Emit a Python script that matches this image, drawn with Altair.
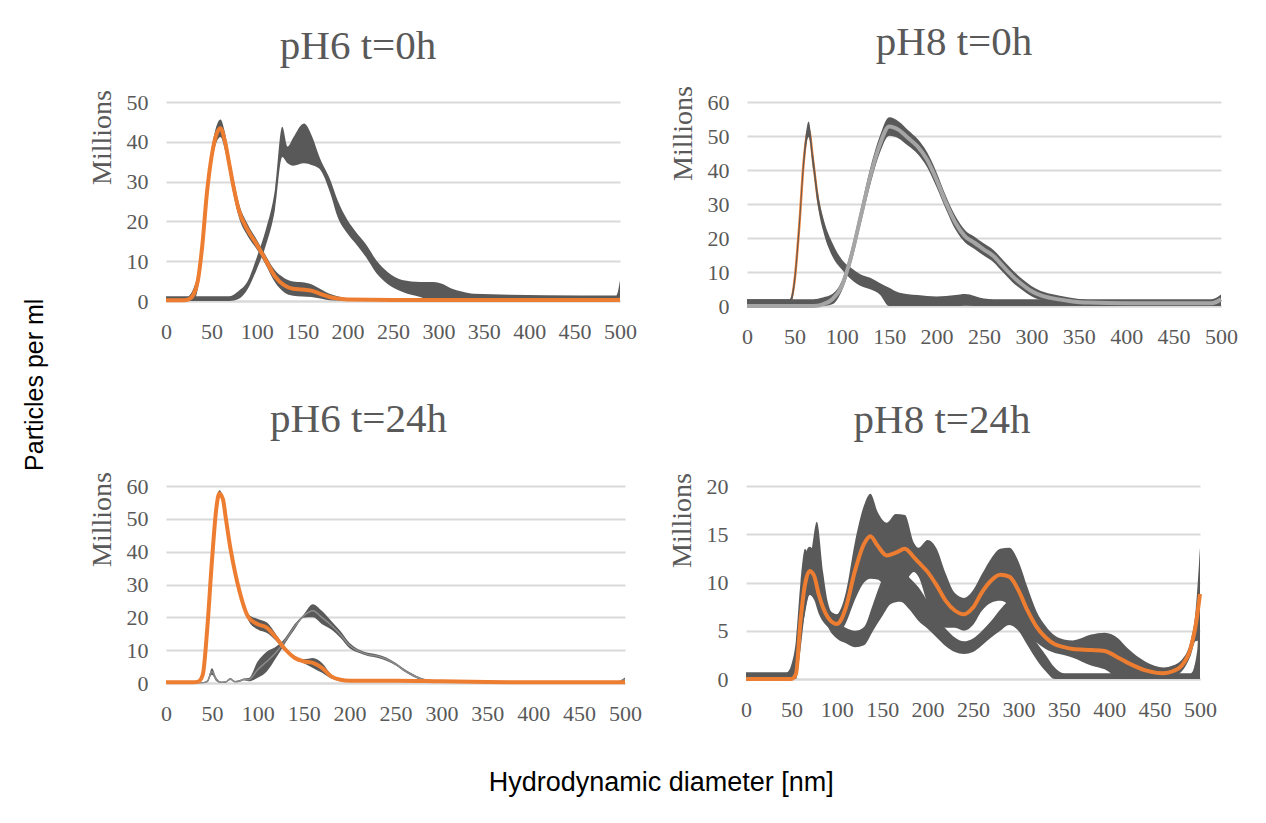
import altair as alt
import pandas as pd

ORANGE = "#ED7D31"
DARK = "#595959"
LIGHT = "#A5A5A5"
MID = "#8C8C8C"
GRID = "#D9D9D9"
SERIF = "Liberation Serif"
SANS = "Liberation Sans"

X_TICKS = [0, 50, 100, 150, 200, 250, 300, 350, 400, 450, 500]

# ---------------- pH6 t=0h ----------------
TL_A_X = [0, 20, 25, 30, 35, 40, 45, 50, 55, 60, 65, 70, 75, 80, 90, 100, 110, 120, 130, 140,
          150, 160, 170, 180, 190, 200, 250, 300, 400, 495, 500]
TL_A_MEAN = [0.2, 0.2, 0.4, 1.5, 5, 14, 27, 36, 41.5, 43.4, 40, 34, 28, 23, 17.8, 14.2, 10.2, 6.2, 4, 3.1,
             2.9, 2.6, 1.8, 1.0, 0.6, 0.35, 0.25, 0.25, 0.25, 0.25, 0.3]
TL_A_ERR = [0.2, 0.3, 0.8, 1.5, 2, 2, 2, 2, 2, 2.2, 2.2, 2, 2, 1.8, 1.5, 1.2, 1.2, 1.5, 1.8, 1.8,
            1.8, 1.6, 1.2, 0.8, 0.5, 0.3, 0.2, 0.2, 0.2, 0.2, 0.2]
TL_B_X = [0, 70, 80, 90, 100, 110, 120, 128, 134, 140, 152, 161, 169, 181, 189, 200, 209, 220, 232, 244,
          260, 280, 295, 303, 315, 327, 339, 378, 457, 496, 500]
TL_B_MEAN = [0.6, 0.6, 1.5, 4, 9.5, 16, 25.5, 40, 36.7, 37.5, 39.6, 37.7, 34.7, 28.7, 23.2, 18.6, 15.9, 12.7, 8.5, 5.8,
             3.8, 2.9, 2.4, 2.3, 1.6, 1.2, 0.9, 0.8, 0.7, 0.7, 2.6]
TL_B_ERR = [0.6, 0.6, 1.0, 1, 1.5, 2, 2.5, 3.8, 2.1, 3.5, 5, 3.6, 1.5, 1.7, 2.1, 1.7, 1.5, 1.6, 1.6, 1.5,
            1.5, 1.9, 2.4, 2.1, 1.5, 1.1, 0.9, 0.8, 0.7, 0.7, 2.6]

# ---------------- pH8 t=0h ----------------
TR_A_X = [0, 45, 50, 55, 60, 65, 70, 75, 80, 90, 100, 110, 120, 130, 140, 150, 160, 180, 200, 220,
          230, 250, 260, 300, 400, 490, 500]
TR_A_MEAN = [1, 1, 7, 23, 43, 52, 42, 31, 24.4, 16.6, 12.2, 9.5, 7.6, 6.6, 5.1, 2.7, 2, 1.6, 1.4, 1.6,
             1.8, 1.1, 1, 1, 1, 1, 1.7]
TR_A_ERR = [1, 1, 1.5, 2, 2, 2.3, 2, 2, 2, 2, 1.5, 1.7, 1.7, 1.7, 1.7, 2.7, 2, 1.6, 1.4, 1.6,
            1.7, 1.1, 1, 1, 1, 1, 1.7]
TR_B_X = [0, 70, 80, 90, 100, 110, 120, 130, 140, 150, 160, 170, 180, 190, 200, 210, 220, 230, 240, 250,
          260, 270, 280, 290, 300, 310, 320, 340, 360, 400, 450, 490, 500]
TR_B_MEAN = [0, 0, 0.5, 2, 5.9, 14.7, 26.4, 38.1, 47.4, 52.8, 51.8, 49.4, 46.9, 43, 37.1, 30.3, 24.4, 20.5, 18.6, 16.6,
             14.7, 11.7, 8.8, 6.4, 4.4, 3.1, 2.4, 1.5, 1, 0.8, 0.8, 0.8, 2]
TR_B_ERR = [2, 2, 2, 1.5, 1.5, 2, 2.2, 2.5, 2.5, 2.7, 2.5, 2.3, 2.2, 2.2, 2.2, 2, 2, 1.8, 1.8, 1.8,
            1.8, 1.8, 1.8, 1.6, 1.5, 1.3, 1.2, 1, 0.8, 0.7, 0.7, 0.7, 1.2]

# ---------------- pH6 t=24h ----------------
BL_A_X = [0, 30, 35, 40, 45, 50, 55, 58, 62, 65, 70, 75, 80, 90, 100, 110, 120, 130, 140, 150,
          160, 170, 180, 190, 200, 250, 300, 350, 400, 500]
BL_A_MEAN = [0.2, 0.2, 0.4, 2.5, 16.8, 37, 53.6, 57.7, 56, 50.5, 41.3, 34, 28, 19.9, 17.9, 16.8, 13.8, 10.2, 7.7, 6.6,
             6.1, 4.6, 2, 1, 0.7, 0.7, 0.5, 0.3, 0.2, 0.2]
BL_A_ERR = [0.1, 0.1, 0.2, 0.5, 1, 1, 1, 1, 1, 1, 1, 1, 1, 1, 1.6, 1.6, 1, 0.6, 0.5, 0.6,
            1.5, 1.5, 0.6, 0.3, 0.2, 0.2, 0.2, 0.1, 0.1, 0.1]
BL_B_X = [0, 40, 45, 50, 55, 60, 65, 70, 75, 80, 85, 90, 100, 110, 120, 130, 140, 150, 160, 170,
          180, 190, 200, 210, 220, 230, 240, 250, 260, 270, 280, 290, 300, 350, 400, 490, 500]
BL_B_MEAN = [0.1, 0.1, 0.5, 3.5, 1, 0.2, 0.3, 1.2, 0.4, 0.6, 1.1, 1.0, 4.1, 6.6, 9.4, 13, 17.1, 20.4, 22, 19.9,
             17.6, 14.8, 11.4, 9.7, 8.7, 8.2, 7.3, 5.8, 3.8, 2.2, 1.05, 0.7, 0.5, 0.35, 0.3, 0.3, 1.2]
BL_B_ERR = [0.1, 0.1, 0.3, 1, 0.5, 0.2, 0.2, 0.3, 0.2, 0.3, 0.3, 0.5, 2.5, 3, 1.7, 0.8, 0.8, 0.5, 2, 2,
            1.3, 1, 0.8, 0.5, 0.5, 0.5, 0.5, 0.4, 0.4, 0.4, 0.3, 0.2, 0.2, 0.2, 0.1, 0.1, 0.5]

# ---------------- pH8 t=24h ----------------
BR_A_X = [0, 50, 55, 60, 65, 70, 75, 80, 90, 100, 105, 110, 120, 130, 137, 145, 155, 165, 175, 185,
          190, 200, 210, 220, 230, 240, 250, 260, 270, 280, 290, 300, 310, 320, 330, 340, 350, 360, 380, 395,
          410, 420, 440, 460, 470, 480, 490, 495, 500]
BR_A_MEAN = [0, 0, 0.5, 6, 9.8, 11.2, 10.7, 8.8, 6.4, 5.7, 6.2, 7.4, 11.2, 14, 14.8, 13.8, 12.8, 13.1, 13.5, 12.6,
             12.1, 11.1, 9.7, 8.1, 7.1, 6.7, 7.4, 9, 10.2, 10.8, 10.6, 9.2, 7.1, 5.4, 4.3, 3.6, 3.3, 3.1, 3, 2.9,
             2.2, 1.7, 0.9, 0.6, 0.8, 1.4, 3.3, 5.4, 8.8]
BR_A_ERR = [0, 0, 0.5, 2, 3, 2.5, 2.5, 2, 1, 1, 1.2, 1.6, 3, 4, 4.4, 3.5, 3.4, 4, 3.5, 1.5,
            1.5, 3.3, 3.8, 2.8, 1.8, 1.7, 1.8, 1.9, 2.3, 2.7, 3, 3, 2.4, 1.6, 1.2, 0.9, 0.8, 0.9, 1.6, 1.9,
            2, 1.5, 0.9, 0.6, 0.6, 0.6, 0.8, 1.5, 4.8]
BR_C_X = [0, 45, 50, 55, 60, 65, 70, 78, 85, 90, 100, 110, 120, 130, 140, 150, 160, 170, 180, 190,
          200, 210, 220, 230, 240, 250, 260, 270, 280, 290, 300, 310, 320, 330, 340, 350, 490, 497, 500]
BR_C_MEAN = [0.35, 0.35, 0.75, 2, 6.5, 10.25, 10.75, 13.15, 9, 6.75, 5.1, 4.5, 4.15, 4.45, 6.4, 8.4, 9.65, 9.75, 8.85, 7.75,
             6.6, 5.3, 4.3, 3.55, 3.25, 3.5, 4.25, 5.15, 6.1, 6.8, 6.1, 4.5, 2.9, 1.65, 0.6, 0.3, 0.3, 1.5, 6.8]
BR_C_ERR = [0.35, 0.35, 0.75, 2, 3.5, 3.25, 1.75, 3.15, 2, 1.25, 0.9, 0.8, 0.85, 0.95, 1.4, 1.9, 1.85, 1.75, 1.65, 1.75,
            1.4, 1, 0.9, 0.75, 0.65, 0.7, 0.75, 0.85, 1.1, 1.2, 1.1, 1, 0.9, 0.85, 0.6, 0.3, 0.3, 1.5, 6.8]


def series_df(x, mean, err, name):
    return pd.DataFrame({
        "x": x,
        "mean": mean,
        "lo": [max(0.0, m - e) for m, e in zip(mean, err)],
        "hi": [m + e for m, e in zip(mean, err)],
        "s": name,
    })


def make_panel(title, bands, lines, ymax, ystep, width, height, title_y, title_dx, title_offset,
               lines_first=()):
    xscale = alt.Scale(domain=[0, 500], nice=False, zero=False)
    yscale = alt.Scale(domain=[0, ymax], nice=False)
    xaxis = alt.Axis(values=X_TICKS, labelFont=SERIF, labelFontSize=22, labelColor=DARK,
                     labelPadding=20, labelFlush=False, labelOverlap=False, grid=False,
                     ticks=False, domainColor=GRID, domainWidth=2, title=None)
    yaxis = alt.Axis(values=list(range(0, ymax + 1, ystep)), labelFont=SERIF, labelFontSize=22,
                     labelColor=DARK, labelPadding=18, grid=True, gridColor=GRID, gridWidth=2,
                     domain=False, ticks=False, title="Millions", titleFont=SERIF, titleFontSize=28,
                     titleFontWeight="normal", titleColor=DARK, titleX=-56, titleY=title_y,
                     titleAngle=270, titleAlign="center", titleBaseline="alphabetic")
    layers = []

    def line_layer(df, color, w):
        return alt.Chart(df).mark_line(color=color, strokeWidth=w, interpolate="monotone").encode(
            x=alt.X("x:Q", scale=xscale, axis=xaxis),
            y=alt.Y("mean:Q", scale=yscale, axis=yaxis),
        )

    for df, color, w in lines_first:
        layers.append(line_layer(df, color, w))
    band_df = pd.concat(bands, ignore_index=True)
    layers.append(
        alt.Chart(band_df).mark_area(color=DARK, opacity=1, interpolate="monotone").encode(
            x=alt.X("x:Q", scale=xscale, axis=xaxis),
            y=alt.Y("lo:Q", scale=yscale, axis=yaxis),
            y2="hi:Q",
            detail="s:N",
        )
    )
    for df, color, w in lines:
        layers.append(line_layer(df, color, w))
    return alt.layer(*layers).properties(
        width=width, height=height,
        title=alt.TitleParams(title, font=SERIF, fontSize=41, fontWeight="normal", color=DARK,
                              anchor="middle", offset=title_offset, dx=title_dx),
    )


tl_a = series_df(TL_A_X, TL_A_MEAN, TL_A_ERR, "A")
tl_b = series_df(TL_B_X, TL_B_MEAN, TL_B_ERR, "B")
tr_a = series_df(TR_A_X, TR_A_MEAN, TR_A_ERR, "A")
tr_b = series_df(TR_B_X, TR_B_MEAN, TR_B_ERR, "B")
bl_a = series_df(BL_A_X, BL_A_MEAN, BL_A_ERR, "A")
bl_b = series_df(BL_B_X, BL_B_MEAN, BL_B_ERR, "B")
br_a = series_df(BR_A_X, BR_A_MEAN, BR_A_ERR, "A")
br_c = series_df(BR_C_X, BR_C_MEAN, BR_C_ERR, "C")

tl = make_panel("pH6 t=0h", [tl_b, tl_a], [(tl_a, ORANGE, 4)], 50, 10, 454, 199, 35, -35, 22)
tr = make_panel("pH8 t=0h", [tr_a, tr_b], [(tr_b, LIGHT, 4)], 60, 10, 474, 204, 31, -30, 22,
                lines_first=[(tr_a, ORANGE, 2.5)])
bl = make_panel("pH6 t=24h", [bl_b, bl_a], [(bl_b, MID, 1.5), (bl_a, ORANGE, 4)], 60, 10, 459, 197, 33,
                -37, 31)
br = make_panel("pH8 t=24h", [br_c, br_a], [(br_a, ORANGE, 4)], 20, 5, 454, 193, 34, -31, 31)

row1 = alt.hconcat(tl, tr, spacing=32)
row2 = alt.hconcat(bl, br, spacing=26)
inner = alt.vconcat(row1, row2, spacing=51).properties(
    title=alt.TitleParams("Particles per ml", orient="left", font=SANS, fontSize=25,
                          fontWeight="normal", color="black", anchor="middle", offset=40, dx=-12)
)
chart = alt.vconcat(inner).properties(
    title=alt.TitleParams("Hydrodynamic diameter [nm]", orient="bottom", font=SANS, fontSize=27,
                          fontWeight="normal", color="black", anchor="middle", offset=46, dx=31),
    padding={"left": 15, "top": 13, "right": 5, "bottom": 5},
).configure_view(stroke=None)

chart.save("out.html", embed_options={"renderer": "svg", "actions": False})
